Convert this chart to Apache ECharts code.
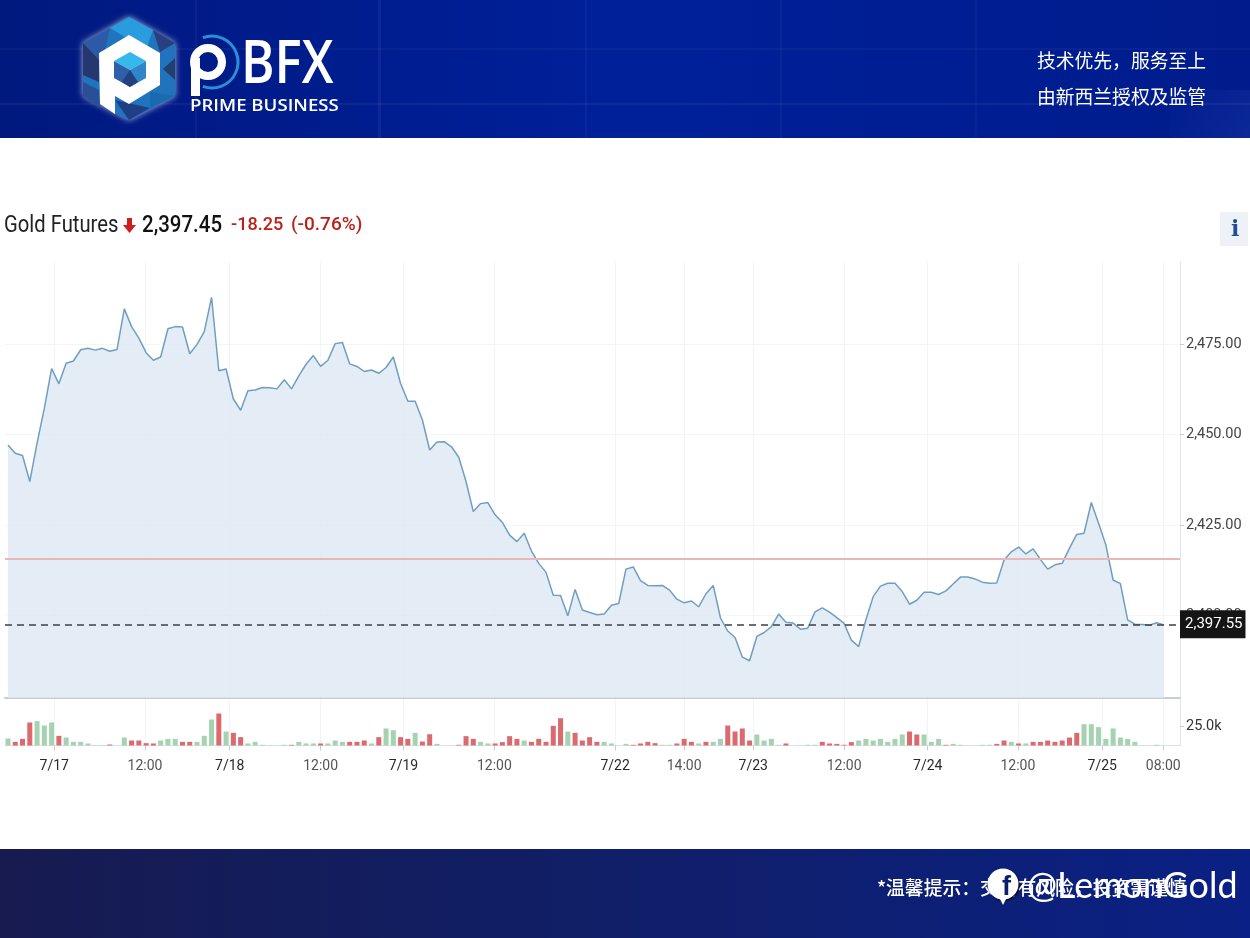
<!DOCTYPE html>
<html>
<head>
<meta charset="utf-8">
<title>Gold Futures</title>
<script src="https://cdn.jsdelivr.net/npm/echarts@6/dist/echarts.min.js"></script>
<style>
html,body{margin:0;padding:0;background:#fff;}
#main{width:1250px;height:938px;}
</style>
</head>
<body>
<div id="main"></div>
<script>
// prices, one per hourly slot
var prices = [
    2447.1,2444.8,2444.2,2437.0,2447.6,2457.2,2468.2,2464.0,2469.7,2470.3,
    2473.4,2473.8,2473.3,2473.8,2473.0,2473.5,2484.7,2479.8,2476.6,2472.6,
    2470.5,2471.4,2479.2,2479.8,2479.7,2472.3,2474.9,2478.4,2487.9,2467.6,
    2468.1,2459.8,2456.7,2462.1,2462.3,2463.0,2462.9,2462.6,2465.1,2462.6,
    2466.2,2469.4,2471.8,2468.8,2470.5,2475.1,2475.4,2469.5,2468.8,2467.4,
    2467.8,2466.9,2468.5,2471.4,2464.1,2459.2,2459.2,2454.0,2445.7,2447.9,
    2448.0,2446.6,2443.7,2437.0,2428.7,2430.9,2431.2,2427.8,2425.7,2422.2,
    2420.4,2422.7,2417.8,2414.4,2411.9,2405.6,2405.5,2399.9,2407.2,2401.5,
    2400.8,2400.2,2400.4,2402.8,2403.3,2412.8,2413.4,2409.6,2408.3,2408.2,
    2408.3,2407.0,2404.5,2403.5,2404.0,2402.4,2406.0,2408.3,2399.3,2395.7,
    2393.9,2388.5,2387.5,2394.2,2395.3,2396.9,2400.4,2398.1,2397.9,2396.2,
    2396.5,2401.0,2402.1,2400.9,2399.4,2397.8,2393.2,2391.4,2398.8,2405.2,
    2408.1,2408.9,2408.9,2406.6,2403.1,2404.2,2406.4,2406.4,2405.8,2406.8,
    2408.7,2410.6,2410.6,2410.1,2409.2,2408.9,2409.0,2415.3,2417.6,2418.9,
    2417.0,2418.4,2415.5,2412.8,2414.0,2414.4,2418.6,2422.4,2422.7,2431.2,
    2425.5,2419.5,2409.8,2408.8,2398.8,2397.6,2397.5,2397.3,2398.0,2397.4
];
// volume in thousands
var volumes = [
    9.0,4.7,8.5,29.5,31.2,25.6,29.5,12.4,10.2,4.7,
    4.7,2.6,0.4,0.4,1.3,0,10.2,6.4,6.4,3.0,
    2.6,6.4,8.5,8.5,4.7,4.7,4.7,12.4,33.3,41.0,
    17.9,16.2,10.7,2.6,4.7,0.9,0.4,0,0.9,0.9,
    4.7,2.6,2.6,2.6,2.6,6.4,4.7,4.7,4.7,6.4,
    2.6,10.7,21.8,19.6,10.7,8.5,16.2,5.1,14.5,2.1,
    0,0,0.9,12.0,8.5,4.7,2.6,2.6,4.3,12.0,
    8.5,6.4,4.7,8.5,4.7,25.2,35.0,17.9,16.2,6.4,
    10.7,4.7,4.7,2.6,0,2.1,0.9,2.6,4.7,3.0,
    0.9,0.9,2.6,8.5,4.7,2.6,4.7,4.7,8.5,25.6,
    17.9,21.8,6.4,14.1,6.4,8.5,0.9,2.6,0,0,
    0.9,0.9,4.7,2.6,2.1,0.9,4.3,6.4,8.5,6.4,
    8.5,4.7,8.5,14.1,17.9,14.1,14.1,4.7,8.5,0.9,
    2.1,0.9,0,0,0.9,0.9,2.1,6.4,4.7,2.6,
    2.6,4.7,4.7,6.4,4.7,6.4,10.2,16.2,27.3,27.3,
    23.5,8.5,21.8,10.2,8.5,4.7,0,0,0.9,0
];
// r = red bar, g = green bar
var volumeSides = (
    'grrrgggrgg' + 'ggggrggrrr' + 'rgggrrgggr' + 'grrgggggg' + 'r' +
    'gggrgggrrr' + 'grggrrgrrg' + 'ggrrrggrrr' + 'rgrrrrrgrr' + 'rrggggrrrr' +
    'ggrrrgrggr' + 'rrrggggrgg' + 'ggrrrrrggg' + 'ggggrrgggr' + 'ggggggrrgr' +
    'grrrrrrrgg'
).split('');
var tickSlots = [6.37,18.85,30.5,43,54.4,66.9,83.5,93,102.5,115,126.5,138.9,150.5,158.9];
var tickLabels = ['7/17','12:00','7/18','12:00','7/19','12:00','7/22','14:00','7/23','12:00','7/24','12:00','7/25','08:00'];
var priceTicks = [2400,2425,2450,2475];
var volumeTicks = [25];
var lastPrice = 2397.55;
var prevClose = 2415.7;

var font = 'Roboto, "Liberation Sans", sans-serif';
var cjk = '"Noto Sans CJK SC", sans-serif';

var priceData = prices.map(function(v,i){ return [i,v]; });
var volumeData = volumes.map(function(v,i){ return [i,v]; });

function poly(points,color,extra){
    var el = {type:'polygon',shape:{points:points},style:{fill:color}};
    if(extra) el.style.shadowBlur = extra;
    if(extra) el.style.shadowColor = 'rgba(255,255,255,0.7)';
    return el;
}
function label(x,y,text,fontStr,color,extra){
    var el = {type:'text',x:x,y:y,style:{text:text,font:fontStr,fill:color,textVerticalAlign:'middle'}};
    if(extra){ for(var k in extra) el[k] = extra[k]; }
    return el;
}
function band(x,y,w,h,fill){
    return {type:'rect',shape:{x:x,y:y,width:w,height:h},style:{fill:fill}};
}

var headerFill = new echarts.graphic.LinearGradient(0,0,1,0,[
    {offset:0,color:'#00197f'},{offset:0.5,color:'#00209a'},{offset:1,color:'#001c8c'}
]);
var footerFill = new echarts.graphic.LinearGradient(0,0,1,0,[
    {offset:0,color:'#171b50'},{offset:0.5,color:'#101f68'},{offset:1,color:'#0a2084'}
]);
var cornerFill = new echarts.graphic.LinearGradient(0,0,1,1,[
    {offset:0,color:'rgba(120,150,255,0)'},{offset:1,color:'rgba(120,150,255,0.1)'}
]);

var brand = label(1027,886,'@LemonGold','37px Lato, "Open Sans", sans-serif','#ffffff',{scaleX:0.97});
brand.style.shadowColor = '#000000';
brand.style.shadowOffsetX = 1.5;
brand.style.shadowOffsetY = 1.5;
brand.style.shadowBlur = 1;

var decor = [
    // header band
    band(0,0,1250,138,headerFill),
    band(195,0,2,138,'rgba(255,255,255,0.04)'),
    band(378,0,3,138,'rgba(255,255,255,0.05)'),
    band(585,0,2,138,'rgba(255,255,255,0.04)'),
    band(780,0,2,138,'rgba(255,255,255,0.035)'),
    band(975,0,2,138,'rgba(255,255,255,0.03)'),
    band(0,48,1250,2,'rgba(255,255,255,0.035)'),
    band(0,103,1250,2,'rgba(255,255,255,0.05)'),
    band(1170,90,80,48,cornerFill),
    // logo
    poly([[129,17],[175,43],[175,96],[129,120],[83,96],[83,43]],'#1f74bd',6),
    poly([[129,17],[153,30],[146,50],[110,28]],'#2a9bdc'),
    poly([[83,43],[110,28],[105,50],[88,72]],'#2c5aa6'),
    poly([[83,43],[99,60],[99,82],[83,75]],'#26366f'),
    poly([[153,30],[175,43],[160,52]],'#2a3f80'),
    poly([[175,58],[175,80],[163,69]],'#22406f'),
    poly([[83,82],[99,90],[100,108],[83,96]],'#2a4f95'),
    poly([[115,100],[150,108],[129,120]],'#1e3f85'),
    poly([[150,108],[175,96],[150,92]],'#1a6ab0'),
    poly([[129,35],[160,53],[160,85],[129,104],[115,96],[115,114],[100,104],[99,53]],'#ffffff'),
    poly([[130,52],[146,61],[130,70],[114,61]],'#35b8ea'),
    poly([[146,61],[146,78],[130,87],[130,70]],'#2f86c9'),
    poly([[114,61],[130,70],[130,87],[114,78]],'#2f5fa8'),
    poly([[122,82],[130,70],[138,82],[130,87]],'#24407f'),
    {type:'arc',shape:{cx:212,cy:62,r:26,startAngle:-1.93,endAngle:1.93},style:{stroke:'#2a8fd8',lineWidth:3,fill:null}},
    {type:'circle',shape:{cx:208,cy:62,r:14},style:{stroke:'#ffffff',lineWidth:8,fill:null}},
    band(191,58,9,38,'#ffffff'),
    label(241,66,'BFX','600 60px "Open Sans", sans-serif','#ffffff',{scaleX:0.85}),
    label(190,107,'PRIME BUSINESS','600 15.5px "Open Sans", sans-serif','#ffffff',{scaleX:1.2}),
    label(1037,61,'技术优先，服务至上','18.8px '+cjk,'#ffffff'),
    label(1037,97,'由新西兰授权及监管','18.8px '+cjk,'#ffffff'),
    // title row
    label(4,226,'Gold Futures','23px '+font,'#222222',{scaleX:0.88}),
    poly([[127,218],[132,218],[132,225],[136,225],[129.5,233],[123,225],[127,225]],'#cc1f1f'),
    label(142,226,'2,397.45','500 23px '+font,'#111111',{scaleX:0.89}),
    label(231,225,'-18.25','500 19px '+font,'#b8221a',{scaleX:0.95}),
    label(291,225,'(-0.76%)','500 19px '+font,'#b8221a'),
    band(1220,212,28,34,'#eef1f5'),
    label(1231,230,'i','bold 22px "DejaVu Serif", serif','#1f4f9c'),
    // footer band
    band(0,849,1250,89,footerFill),
    label(877,888,'*温馨提示：交易有风险，投资需谨慎','500 18.8px '+cjk,'#ffffff'),
    {type:'circle',shape:{cx:1003,cy:884,r:15.5},style:{fill:'#ffffff',shadowBlur:2,shadowColor:'#000',shadowOffsetX:1,shadowOffsetY:1}},
    poly([[998,895],[1008,895],[1003,905]],'#ffffff'),
    label(1002,888,'f','bold 27px "Liberation Sans", sans-serif','#0c1e6a'),
    brand,
    // clips the last tick label at the axis edge
    band(1180.5,755,8,20,'#ffffff')
];
decor.forEach(function(el){ el.z = 10; });

var myChart = echarts.init(document.getElementById('main'));
var option = {
    animation:false,
    backgroundColor:'#ffffff',
    graphic:{elements:decor},
    grid:[
        {left:5,right:70,top:262,height:436},
        {left:5,right:70,top:699,height:46.5}
    ],
    xAxis:[
        {
            type:'value',gridIndex:0,min:-0.41,max:161.2,
            axisLine:{onZero:false,lineStyle:{color:'#c9cdd2',width:2}},
            axisTick:{show:false,customValues:tickSlots},
            axisLabel:{show:false,customValues:tickSlots},
            splitLine:{show:true,lineStyle:{color:'#f2f4f7',width:1}}
        },
        {
            type:'value',gridIndex:1,min:-0.41,max:161.2,
            axisLine:{onZero:false,lineStyle:{color:'#dcdfe3',width:1}},
            axisTick:{show:true,length:5,lineStyle:{color:'#cccccc'},customValues:tickSlots},
            axisLabel:{
                show:true,customValues:tickSlots,color:'#555555',fontSize:14,fontFamily:font,margin:14,
                formatter:function(v){
                    var t = tickLabels[tickSlots.indexOf(v)] || '';
                    return t.indexOf('/')>0 ? '{d|'+t+'}' : t;
                },
                rich:{d:{color:'#2a2a2a',fontSize:14,fontFamily:font}}
            },
            splitLine:{show:true,lineStyle:{color:'#f2f4f7',width:1}}
        }
    ],
    yAxis:[
        {
            type:'value',gridIndex:0,position:'right',min:2377.2,max:2497.65,
            axisLine:{show:true,onZero:false,lineStyle:{color:'#e3e5e8'}},
            axisTick:{show:true,length:4,lineStyle:{color:'#cccccc'},customValues:priceTicks},
            axisLabel:{
                customValues:priceTicks,color:'#444444',fontSize:14.5,fontFamily:font,margin:6,
                formatter:function(v){ return v.toLocaleString('en-US',{minimumFractionDigits:2,maximumFractionDigits:2}); }
            },
            splitLine:{show:true,lineStyle:{color:'#f4f5f7',width:1}}
        },
        {
            type:'value',gridIndex:1,position:'right',min:0,max:59.6,
            axisLine:{show:true,onZero:false,lineStyle:{color:'#e3e5e8'}},
            axisTick:{show:true,length:4,lineStyle:{color:'#cccccc'},customValues:volumeTicks},
            axisLabel:{
                customValues:volumeTicks,color:'#333333',fontSize:14.5,fontFamily:font,margin:6,
                formatter:function(v){ return v.toFixed(1)+'k'; }
            },
            splitLine:{show:false}
        }
    ],
    series:[
        {
            name:'Gold Futures',type:'line',xAxisIndex:0,yAxisIndex:0,data:priceData,
            showSymbol:false,smooth:false,
            lineStyle:{color:'#6f9fc0',width:1.5},
            areaStyle:{color:'#dde8f2',opacity:0.8},
            markLine:{
                silent:true,symbol:'none',animation:false,
                data:[
                    {
                        yAxis:prevClose,
                        lineStyle:{color:'#e9b7b7',type:'solid',width:2},
                        label:{show:false}
                    },
                    {
                        yAxis:lastPrice,
                        lineStyle:{color:'#3d4246',type:[7,5],width:1.6},
                        label:{
                            show:true,position:'end',distance:0,formatter:'2,397.55',
                            color:'#ffffff',backgroundColor:'#151515',fontSize:15,fontFamily:font,
                            padding:[8,3,5,5]
                        }
                    }
                ]
            }
        },
        {
            name:'Volume',type:'bar',xAxisIndex:1,yAxisIndex:1,data:volumeData,barWidth:5,
            itemStyle:{
                color:function(p){ return volumeSides[p.dataIndex]=='r' ? '#db6a6e' : '#a5d2b1'; }
            }
        }
    ]
};
myChart.setOption(option);
</script>
</body>
</html>
